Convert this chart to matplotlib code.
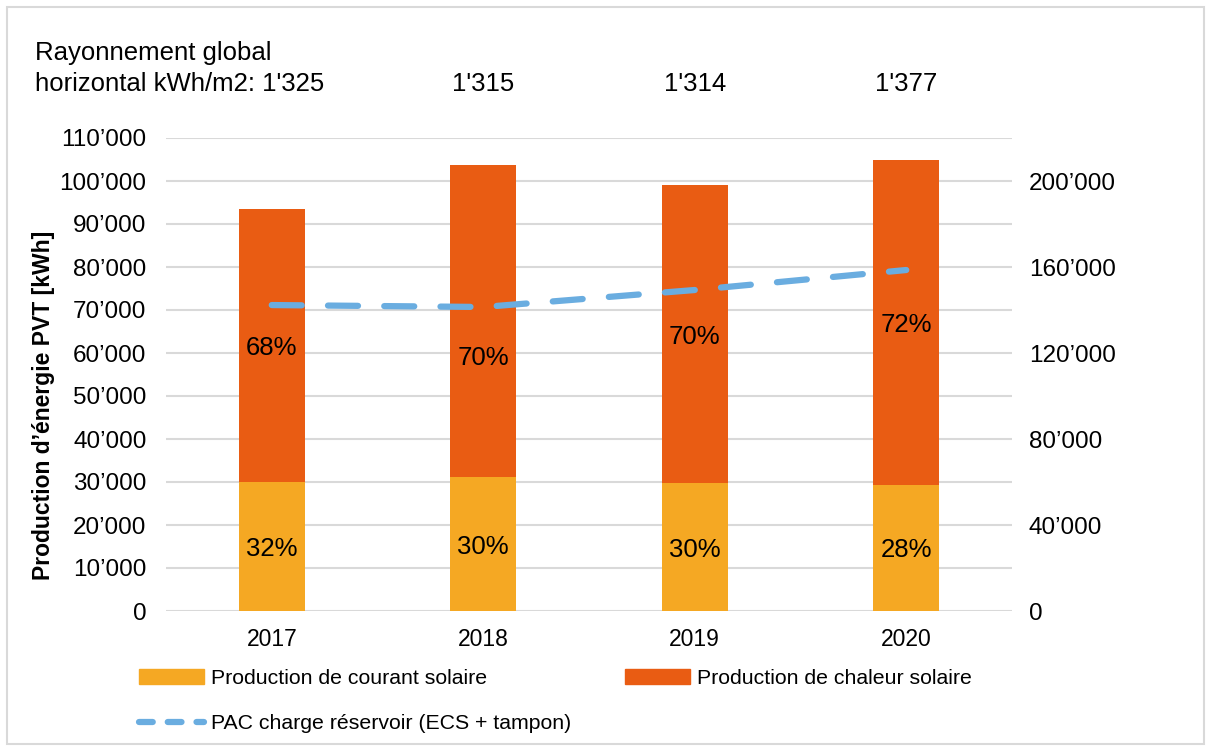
import matplotlib.pyplot as plt
from matplotlib.patches import Rectangle
from matplotlib.lines import Line2D
from matplotlib.ticker import FuncFormatter

plt.rcParams["font.family"] = ["Liberation Sans", "DejaVu Sans"]

years = ["2017", "2018", "2019", "2020"]
courant = [29900, 31100, 29700, 29400]      # kWh, production de courant solaire
chaleur = [63600, 72600, 69400, 75500]      # kWh, production de chaleur solaire
pct_courant = ["32%", "30%", "30%", "28%"]
pct_chaleur = ["68%", "70%", "70%", "72%"]
pac_charge = [142300, 141400, 149300, 158600]  # right axis
rayonnement = ["1'325", "1'315", "1'314", "1'377"]

c_courant = "#F5A823"
c_chaleur = "#E95C13"
c_pac = "#6AADE0"


def apos(v, pos):
    v = int(round(v))
    if v == 0:
        return "0"
    return f"{v:,}".replace(",", "\u2019")


fig = plt.figure(figsize=(12.08, 7.49), dpi=100)
ax = fig.add_axes([166 / 1208, 1 - 611 / 749, 846 / 1208, 473 / 749])
x = list(range(len(years)))
w = 0.31

ax.bar(x, courant, width=w, color=c_courant, zorder=2)
ax.bar(x, chaleur, width=w, bottom=courant, color=c_chaleur, zorder=2)

# percentage labels, the 2018 heat label sits a bit lower
for i in x:
    ax.text(i, courant[i] / 2 - 600, pct_courant[i], ha="center", va="center", fontsize=18.5, zorder=4)
    yc = courant[i] + chaleur[i] / 2
    if years[i] == "2018":
        yc -= 8000
    ax.text(i, yc - 600, pct_chaleur[i], ha="center", va="center", fontsize=18.5, zorder=4)

ax.set_xlim(-0.5, 3.5)
ax.set_ylim(0, 110000)
ax.set_yticks(range(0, 110001, 10000))
ax.yaxis.set_major_formatter(FuncFormatter(apos))
ax.set_xticks(x)
ax.set_xticklabels(years)
ax.tick_params(axis="x", length=0, labelsize=16.5, pad=12)
ax.tick_params(axis="y", length=0, labelsize=17.5, pad=14)
ax.grid(axis="y", color="#d9d9d9", linewidth=1.5, zorder=0)
for s in ax.spines.values():
    s.set_visible(False)
ax.set_ylabel("Production d\u2019énergie PVT [kWh]", fontsize=16.5, fontweight="bold")
ax.yaxis.set_label_coords(-0.131, 0.435)

ax2 = ax.twinx()
ax2.plot(x, pac_charge, color=c_pac, linewidth=4.5, linestyle=(0, (4.8, 4.2)),
         dash_capstyle="round", zorder=5)
ax2.set_ylim(0, 220000)
ax2.set_yticks(range(0, 200001, 40000))
ax2.yaxis.set_major_formatter(FuncFormatter(apos))
ax2.tick_params(axis="y", length=0, labelsize=17.5, pad=12)
for s in ax2.spines.values():
    s.set_visible(False)

# irradiation header
fig.text(35 / 1208, 1 - 60 / 749, "Rayonnement global", fontsize=18.5, ha="left", va="baseline")
fig.text(35 / 1208, 1 - 91 / 749, "horizontal kWh/m2: " + rayonnement[0],
         fontsize=18.5, ha="left", va="baseline")
for i in range(1, len(years)):
    xf = ax.transData.transform((i, 0))[0] / fig.bbox.width
    fig.text(xf, 1 - 91 / 749, rayonnement[i], fontsize=18.5, ha="center", va="baseline")

# legend
h_courant = Rectangle((0, 0), 1, 1, color=c_courant)
h_chaleur = Rectangle((0, 0), 1, 1, color=c_chaleur)
h_pac = Line2D([], [], color=c_pac, linewidth=4.5, linestyle=(0, (2.2, 2.4)), dash_capstyle="round")
leg_kw = dict(loc="upper left", frameon=False, fontsize=15.3, handlelength=3.1,
              handleheight=0.7, handletextpad=0.33, borderaxespad=0)
fig.legend([h_courant, h_pac], ["Production de courant solaire", "PAC charge réservoir (ECS + tampon)"],
           bbox_to_anchor=(130 / 1208, 1 - 660 / 749), labelspacing=1.25, **leg_kw)
fig.legend([h_chaleur], ["Production de chaleur solaire"],
           bbox_to_anchor=(616 / 1208, 1 - 660 / 749), **leg_kw)

fig.patches.append(Rectangle((7 / 1208, 5 / 749), 1197 / 1208, 737 / 749, transform=fig.transFigure,
                             fill=False, edgecolor="#d9d9d9", linewidth=1.5))

fig.savefig("out.png", dpi=100)
